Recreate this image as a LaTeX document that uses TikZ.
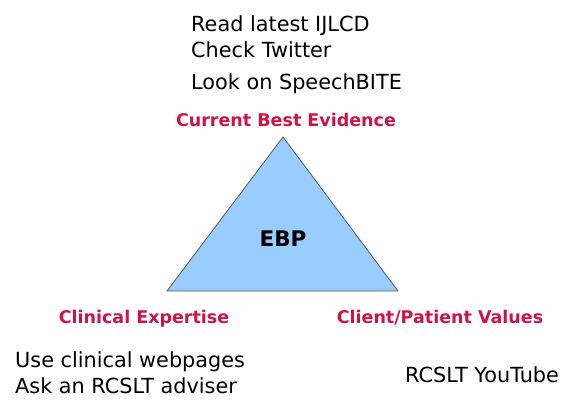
\documentclass[tikz,border=0pt]{standalone}
\usepackage{fontspec}
\setmainfont{DejaVu Sans}
\usetikzlibrary{positioning}
\definecolor{ebpblue}{RGB}{153,204,255}
\definecolor{ebpred}{RGB}{204,20,72}

\begin{document}
\begin{tikzpicture}[x=1pt,y=-1pt,
    corner/.style={font=\bfseries\fontsize{17.5}{20}\selectfont, text=ebpred, anchor=base, inner sep=0pt},
    tip/.style={font=\fontsize{20.8}{24}\selectfont, anchor=base west, inner sep=0pt}]
    \useasboundingbox (0,0) rectangle (573,399);
    % the triangle
    \coordinate (apex) at (283,137);
    \coordinate (baseL) at (167,291);
    \coordinate (baseR) at (398,291);
    \filldraw[fill=ebpblue, draw=black!65, line width=0.8pt] (apex) -- (baseL) -- (baseR) -- cycle;
    \node[font=\bfseries\fontsize{21.5}{24}\selectfont] (ebp) at (283,239) {EBP};
    % corner labels
    \node[corner] (evidence) at (286,126) {Current Best Evidence};
    \node[corner] (expertise) at (144,323) {Clinical Expertise};
    \node[corner] (values) at (440,323) {Client/Patient Values};
    % where to look
    \node[tip] (ijlcd) at (191,31) {Read latest IJLCD};
    \node[tip] (twitter) at (191,57) {Check Twitter};
    \node[tip] (speechbite) at (191,89) {Look on SpeechBITE};
    \node[tip] (webpages) at (15,367) {Use clinical webpages};
    \node[tip] (adviser) at (15,393) {Ask an RCSLT adviser};
    \node[tip] (youtube) at (405,382) {RCSLT YouTube};
\end{tikzpicture}
\end{document}
